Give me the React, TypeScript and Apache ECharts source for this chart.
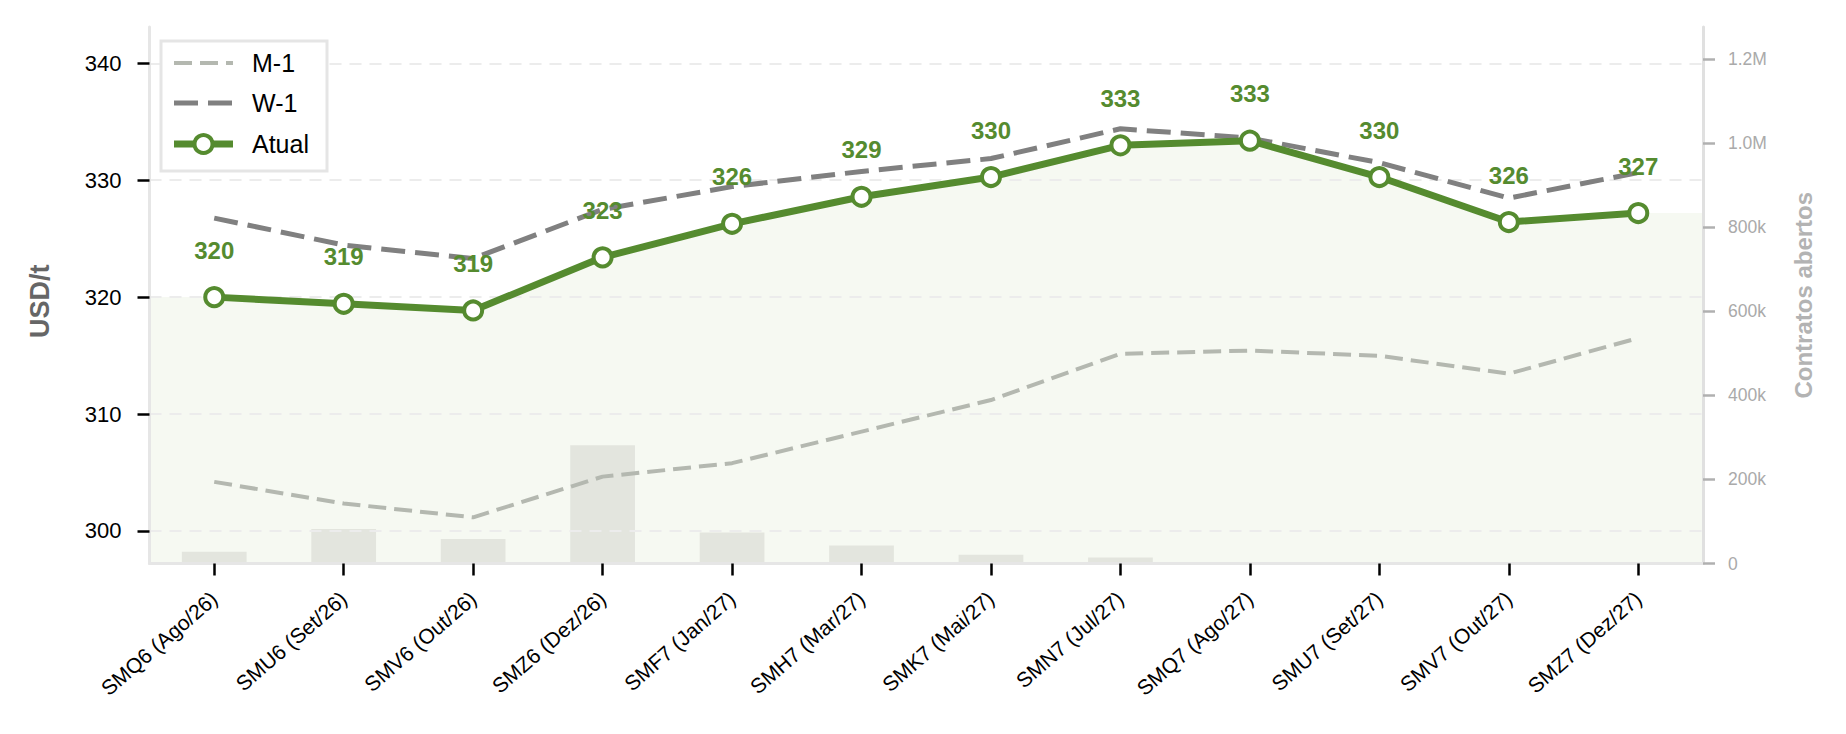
import React, { useEffect, useRef } from 'react';
import * as echarts from 'echarts';

const categories = [
  'SMQ6 (Ago/26)', 'SMU6 (Set/26)', 'SMV6 (Out/26)', 'SMZ6 (Dez/26)',
  'SMF7 (Jan/27)', 'SMH7 (Mar/27)', 'SMK7 (Mai/27)', 'SMN7 (Jul/27)',
  'SMQ7 (Ago/27)', 'SMU7 (Set/27)', 'SMV7 (Out/27)', 'SMZ7 (Dez/27)',
];
const atual = [320.0, 319.43, 318.86, 323.4, 326.27, 328.58, 330.27, 332.98, 333.38, 330.27, 326.42, 327.19];
const w1 = [326.76, 324.45, 323.3, 327.5, 329.45, 330.75, 331.85, 334.4, 333.6, 331.5, 328.47, 330.65];
const m1 = [304.2, 302.35, 301.17, 304.65, 305.8, 308.5, 311.2, 315.15, 315.43, 314.98, 313.45, 316.5];
const openInterest = [28000, 82000, 58000, 281000, 74000, 43000, 21000, 14000, 0, 0, 0, 0];
const leftTicks = [300, 310, 320, 330, 340];
const rightTicks = [0, 200000, 400000, 600000, 800000, 1000000, 1200000];
const legendNames = ['M-1', 'W-1', 'Atual'];

const FONT = '"Liberation Sans", Arial, Helvetica, sans-serif';
const GREEN = '#558b2f';
const M1_COLOR = '#b4b8b0';
const W1_COLOR = '#808080';
const M1_DASH = [18, 8];
const W1_DASH = [24, 10];

function fmtRight(v: number) {
  if (v === 0) return '0';
  if (v >= 1000000) return (v / 1000000).toFixed(1) + 'M';
  return Math.round(v / 1000) + 'k';
}

function buildLegend() {
  const boxX = 161;
  const boxY = 41;
  const rowY = [63, 103, 144];
  const x1 = 174;
  const x2 = 233;
  const textX = 252;
  const els: any[] = [
    {
      type: 'rect',
      shape: { x: boxX, y: boxY, width: 166, height: 130 },
      style: { fill: '#ffffff', stroke: '#e5e5e5', lineWidth: 3 },
      z: 100,
    },
    {
      type: 'line',
      shape: { x1, y1: rowY[0], x2, y2: rowY[0] },
      style: { stroke: M1_COLOR, lineWidth: 4, lineDash: M1_DASH },
      z: 101,
    },
    {
      type: 'line',
      shape: { x1, y1: rowY[1], x2, y2: rowY[1] },
      style: { stroke: W1_COLOR, lineWidth: 5, lineDash: W1_DASH },
      z: 101,
    },
    {
      type: 'line',
      shape: { x1, y1: rowY[2], x2, y2: rowY[2] },
      style: { stroke: GREEN, lineWidth: 7 },
      z: 101,
    },
    {
      type: 'circle',
      shape: { cx: (x1 + x2) / 2, cy: rowY[2], r: 9 },
      style: { fill: '#ffffff', stroke: GREEN, lineWidth: 4 },
      z: 102,
    },
  ];
  legendNames.forEach((name, i) => {
    els.push({
      type: 'text',
      x: textX,
      y: rowY[i],
      style: {
        text: name,
        fontSize: 25,
        fontFamily: FONT,
        fill: '#000000',
        verticalAlign: 'middle',
        textVerticalAlign: 'middle',
      },
      z: 102,
    });
  });
  return els;
}

function buildOption() {
  const last = atual.length - 1;
  const fillData: number[][] = [[-0.5, atual[0]]]
    .concat(atual.map((v, i) => [i, v]))
    .concat([[last + 0.5, atual[last]]]);

  return {
    animation: false,
    backgroundColor: '#ffffff',
    textStyle: { fontFamily: FONT },
    grid: { left: 149.5, right: 143, top: 27, bottom: 170.5, containLabel: false },
    graphic: buildLegend(),
    xAxis: [
      {
        type: 'category',
        data: categories,
        boundaryGap: true,
        axisLine: { show: true, onZero: false, lineStyle: { color: '#e6e6e6', width: 3 } },
        axisTick: { show: true, alignWithLabel: true, length: 12, lineStyle: { color: '#000', width: 2.5 } },
        axisLabel: { rotate: 41, fontSize: 21, color: '#000', margin: 32, fontFamily: FONT, interval: 0 },
        splitLine: { show: false },
      },
      { type: 'value', min: -0.5, max: last + 0.5, show: false, axisLine: { onZero: false } },
    ],
    yAxis: [
      {
        type: 'value',
        min: 297.22,
        max: 343.1,
        position: 'left',
        name: 'USD/t',
        nameLocation: 'middle',
        nameGap: 96,
        nameRotate: 90,
        nameTextStyle: { fontSize: 27, fontWeight: 'bold', color: '#666666', fontFamily: FONT, padding: [0, 12, 0, 0] },
        axisLine: { show: true, onZero: false, lineStyle: { color: '#e6e6e6', width: 3 } },
        axisTick: { show: true, length: 12, customValues: leftTicks, lineStyle: { color: '#000', width: 2.5 } },
        axisLabel: { customValues: leftTicks, fontSize: 22, color: '#000', margin: 28, fontFamily: FONT },
        splitLine: { show: true, lineStyle: { color: '#ececec', width: 2, type: [12, 8] } },
      },
      {
        type: 'value',
        min: 0,
        max: 1276000,
        position: 'right',
        name: 'Contratos abertos',
        nameLocation: 'middle',
        nameGap: 88,
        nameRotate: 90,
        nameTextStyle: { fontSize: 24, fontWeight: 'bold', color: '#b3b3b3', fontFamily: FONT },
        axisLine: { show: true, onZero: false, lineStyle: { color: '#e0e0e0', width: 3 } },
        axisTick: { show: true, length: 12, customValues: rightTicks, lineStyle: { color: '#b0b0b0', width: 2.5 } },
        axisLabel: { customValues: rightTicks, fontSize: 17.5, color: '#aaaaaa', margin: 25, fontFamily: FONT, formatter: fmtRight },
        splitLine: { show: false },
      },
    ],
    series: [
      {
        name: 'fill',
        type: 'line',
        xAxisIndex: 1,
        yAxisIndex: 0,
        data: fillData,
        symbol: 'none',
        lineStyle: { width: 0 },
        areaStyle: { color: '#f6f9f2', opacity: 1 },
        silent: true,
        z: -2,
      },
      {
        name: 'Contratos',
        type: 'bar',
        xAxisIndex: 0,
        yAxisIndex: 1,
        data: openInterest,
        barWidth: '50%',
        itemStyle: { color: '#e3e5de' },
        silent: true,
        z: -1,
      },
      {
        name: 'M-1',
        type: 'line',
        data: m1,
        symbol: 'none',
        lineStyle: { color: M1_COLOR, width: 4, type: M1_DASH },
        itemStyle: { color: M1_COLOR },
        z: 3,
      },
      {
        name: 'W-1',
        type: 'line',
        data: w1,
        symbol: 'none',
        lineStyle: { color: W1_COLOR, width: 5, type: W1_DASH },
        itemStyle: { color: W1_COLOR },
        z: 4,
      },
      {
        name: 'Atual',
        type: 'line',
        data: atual,
        symbol: 'circle',
        symbolSize: 18,
        showAllSymbol: true,
        lineStyle: { color: GREEN, width: 7 },
        itemStyle: { color: '#ffffff', borderColor: GREEN, borderWidth: 4 },
        label: {
          show: true,
          position: 'top',
          distance: 24,
          formatter: (p: any) => String(Math.round(p.value)),
          fontSize: 24,
          fontWeight: 'bold',
          color: GREEN,
          fontFamily: FONT,
        },
        z: 5,
      },
    ],
  };
}

export default function App() {
  const ref = useRef<HTMLDivElement>(null);
  useEffect(() => {
    document.body.style.margin = '0';
    const chart = echarts.init(ref.current as HTMLDivElement, null, { renderer: 'svg' });
    chart.setOption(buildOption() as any);
    return () => chart.dispose();
  }, []);
  return <div ref={ref} style={{ width: 1846, height: 734 }} />;
}
